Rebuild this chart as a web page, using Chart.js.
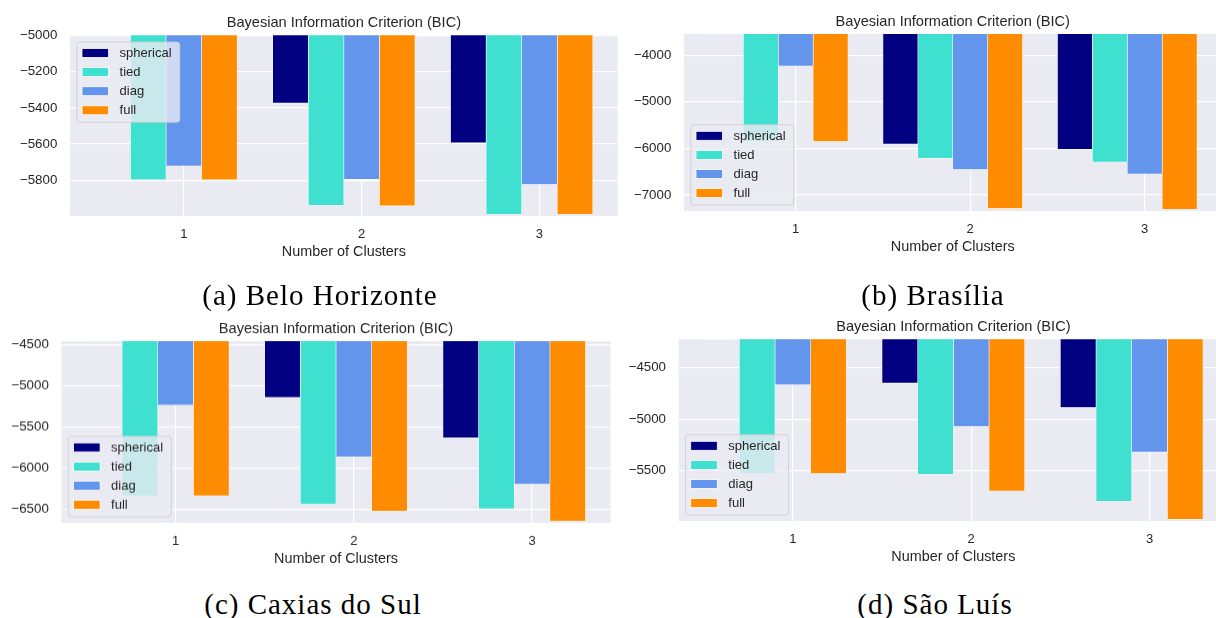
<!DOCTYPE html>
<html>
<head>
<meta charset="utf-8">
<script src="https://cdn.jsdelivr.net/npm/chart.js@4.4.1/dist/chart.umd.min.js"></script>
<style>
  html, body { margin: 0; padding: 0; background: #fff; }
  body { width: 1216px; height: 618px; overflow: hidden; position: relative; }
  canvas.panel { position: absolute; }
  .caption {
    position: absolute;
    font-family: "Liberation Serif", "Times New Roman", serif;
    font-size: 29px;
    line-height: 29px;
    letter-spacing: 1px;
    color: #000;
    white-space: nowrap;
    transform: translateX(-50%);
  }
</style>
</head>
<body>
<canvas id="bh" class="panel"></canvas>
<canvas id="bsb" class="panel"></canvas>
<canvas id="cxs" class="panel"></canvas>
<canvas id="slz" class="panel"></canvas>
<div class="caption" style="left:320px; top:281px;">(a) Belo Horizonte</div>
<div class="caption" style="left:933px; top:281px;">(b) Brasília</div>
<div class="caption" style="left:313px; top:590px;">(c) Caxias do Sul</div>
<div class="caption" style="left:935px; top:590px;">(d) São Luís</div>
<script>
// Number of mixture components tried for each city
const clusters = [1, 2, 3];
const covarianceTypes = ['spherical', 'tied', 'diag', 'full'];
const typeColors = ['#000080', '#40E0D0', '#6495ED', '#FF8C00'];

// BIC scores, one value per cluster count
const bhSpherical = [-4999, -5374, -5593];
const bhTied      = [-5798, -5938, -5988];
const bhDiag      = [-5721, -5795, -5824];
const bhFull      = [-5797, -5942, -5988];
const bhTicks     = [-5800, -5600, -5400, -5200, -5000];

const bsbSpherical = [-3544, -5908, -6023];
const bsbTied      = [-5850, -6216, -6294];
const bsbDiag      = [-4230, -6458, -6551];
const bsbFull      = [-5852, -7294, -7309];
const bsbTicks     = [-7000, -6000, -5000, -4000];

const cxsSpherical = [-4455, -5139, -5630];
const cxsTied      = [-6335, -6439, -6492];
const cxsDiag      = [-5233, -5861, -6193];
const cxsFull      = [-6335, -6521, -6642];
const cxsTicks     = [-6500, -6000, -5500, -5000, -4500];

const slzSpherical = [-4223, -4649, -4886];
const slzTied      = [-5529, -5536, -5799];
const slzDiag      = [-4665, -5071, -5321];
const slzFull      = [-5529, -5699, -5974];
const slzTicks     = [-5500, -5000, -4500];

const TEXT = '#262626';
const SANS = '"Liberation Sans", Arial, Helvetica, sans-serif';
const TITLE = 'Bayesian Information Criterion (BIC)';
const XLABEL = 'Number of Clusters';

// canvas box and plot-area box for each panel, in page pixels
const panels = [
  { id: 'bh',  series: [bhSpherical, bhTied, bhDiag, bhFull],     ticks: bhTicks,
    box: { x: 0,   y: 0,   w: 640, h: 264 },   area: { l: 70,    t: 35.3,  r: 617.7 }, legend: 'upper left' },
  { id: 'bsb', series: [bsbSpherical, bsbTied, bsbDiag, bsbFull], ticks: bsbTicks,
    box: { x: 620, y: 0,   w: 625, h: 259.3 }, area: { l: 684,   t: 34,    r: 1221.5 }, legend: 'lower left' },
  { id: 'cxs', series: [cxsSpherical, cxsTied, cxsDiag, cxsFull], ticks: cxsTicks,
    box: { x: 0,   y: 310, w: 640, h: 260.7 }, area: { l: 61.5,  t: 341,   r: 610.5 }, legend: 'lower left' },
  { id: 'slz', series: [slzSpherical, slzTied, slzDiag, slzFull], ticks: slzTicks,
    box: { x: 620, y: 310, w: 630, h: 259 },   area: { l: 678.7, t: 339.3, r: 1228 }, legend: 'lower left' }
];
const X_AXIS_H = 48;

const minusFmt = v => (v < 0 ? '\u2212' : '') + Math.abs(v);

// plot-area background, drawn under the grid
const areaBackground = {
  id: 'areaBackground',
  beforeDraw(chart) {
    const { ctx, chartArea: a } = chart;
    ctx.save();
    ctx.fillStyle = '#EAEAF2';
    ctx.fillRect(a.left, a.top, a.right - a.left, a.bottom - a.top);
    ctx.restore();
  }
};

// title centred over the plot area
const areaTitle = {
  id: 'areaTitle',
  afterDraw(chart, args, opts) {
    const { ctx, chartArea: a } = chart;
    ctx.save();
    ctx.font = `14.6px ${SANS}`;
    ctx.fillStyle = TEXT;
    ctx.textAlign = 'center';
    ctx.textBaseline = 'alphabetic';
    ctx.fillText(opts.text, (a.left + a.right) / 2, a.top - 8.3);
    ctx.restore();
  }
};

// legend box placed inside the plot area
const insideLegend = {
  id: 'insideLegend',
  afterDatasetsDraw(chart, args, opts) {
    const { ctx, chartArea: a } = chart;
    const items = chart.data.datasets;
    ctx.save();
    ctx.font = `13px ${SANS}`;
    const textW = Math.max(...items.map(d => ctx.measureText(d.label).width));
    const padL = 5.7, sw = 26.6, sh = 9, gap = 11, padR = 7.7, row = 19.1, first = 11.5;
    const w = padL + sw + gap + textW + padR;
    const h = first * 2 + row * (items.length - 1);
    const x0 = a.left + 6.3;
    const y0 = opts.loc === 'upper left' ? a.top + 6.2 : a.bottom - 6.4 - h;
    ctx.beginPath();
    ctx.roundRect(x0 + 0.5, y0 + 0.5, w, h, 3);
    ctx.fillStyle = 'rgba(234,234,242,0.8)';
    ctx.fill();
    ctx.lineWidth = 1;
    ctx.strokeStyle = 'rgba(204,204,204,0.8)';
    ctx.stroke();
    items.forEach((d, i) => {
      const cy = y0 + first + row * i;
      ctx.fillStyle = d.backgroundColor;
      ctx.fillRect(x0 + padL, cy - sh / 2, sw, sh);
      ctx.lineWidth = 0.8;
      ctx.strokeStyle = '#fff';
      ctx.strokeRect(x0 + padL, cy - sh / 2, sw, sh);
      ctx.fillStyle = TEXT;
      ctx.textAlign = 'left';
      ctx.textBaseline = 'middle';
      ctx.fillText(d.label, x0 + padL + sw + gap, cy + 0.5);
    });
    ctx.restore();
  }
};

panels.forEach(p => {
  const cv = document.getElementById(p.id);
  cv.width = p.box.w; cv.height = p.box.h;
  cv.style.left = p.box.x + 'px'; cv.style.top = p.box.y + 'px';
  cv.style.width = p.box.w + 'px'; cv.style.height = p.box.h + 'px';

  // value range as the plotting code sets it: top at the best score, a 1% margin below the worst
  const all = p.series.flat();
  const yMax = Math.max(...all);
  const yMin = Math.min(...all) * 1.01 - 0.01 * yMax;

  const datasets = covarianceTypes.map((name, i) => ({
    label: name,
    data: clusters.map((c, k) => ({ x: c + 0.2 * (i - 2), y: p.series[i][k] })),
    backgroundColor: typeColors[i],
    borderColor: '#ffffff',
    borderWidth: 0.6,
    borderSkipped: false,
    grouped: false,
    categoryPercentage: 1,
    barPercentage: 1,
    clip: 0
  }));

  // bar extent along x plus 5% margins on each side
  const xs = datasets.flatMap(d => d.data.map(pt => pt.x));
  const lo = Math.min(...xs) - 0.1, hi = Math.max(...xs) + 0.1;
  const m = (hi - lo) * 0.05;

  new Chart(cv, {
    type: 'bar',
    data: { datasets },
    options: {
      responsive: false,
      animation: false,
      devicePixelRatio: 1,
      layout: { padding: { top: p.area.t - p.box.y, right: p.box.x + p.box.w - p.area.r, left: 0, bottom: 0 } },
      plugins: {
        legend: { display: false },
        tooltip: { enabled: false },
        title: { display: false },
        areaTitle: { text: TITLE },
        insideLegend: { loc: p.legend }
      },
      scales: {
        x: {
          type: 'linear',
          min: lo - m,
          max: hi + m,
          offset: false,
          afterBuildTicks: s => { s.ticks = clusters.map(v => ({ value: v })); },
          afterFit: s => { s.height = X_AXIS_H; },
          grid: { color: '#ffffff', lineWidth: 1.2, drawTicks: false, offset: false },
          border: { display: false },
          ticks: { padding: 10.5, color: TEXT, font: { family: SANS, size: 13 } },
          title: { display: true, text: XLABEL, color: TEXT, font: { family: SANS, size: 14.4 },
                   padding: { top: 0, bottom: X_AXIS_H - 45 } }
        },
        y: {
          min: yMin,
          max: yMax,
          beginAtZero: false,
          afterBuildTicks: s => { s.ticks = p.ticks.map(v => ({ value: v })); },
          afterFit: s => { s.width = p.area.l - p.box.x; },
          grid: { color: '#ffffff', lineWidth: 1.2, drawTicks: false },
          border: { display: false },
          ticks: { padding: 12.7, color: TEXT, font: { family: SANS, size: 13.3 }, callback: v => minusFmt(v) }
        }
      }
    },
    plugins: [areaBackground, areaTitle, insideLegend]
  });
});
</script>
</body>
</html>
